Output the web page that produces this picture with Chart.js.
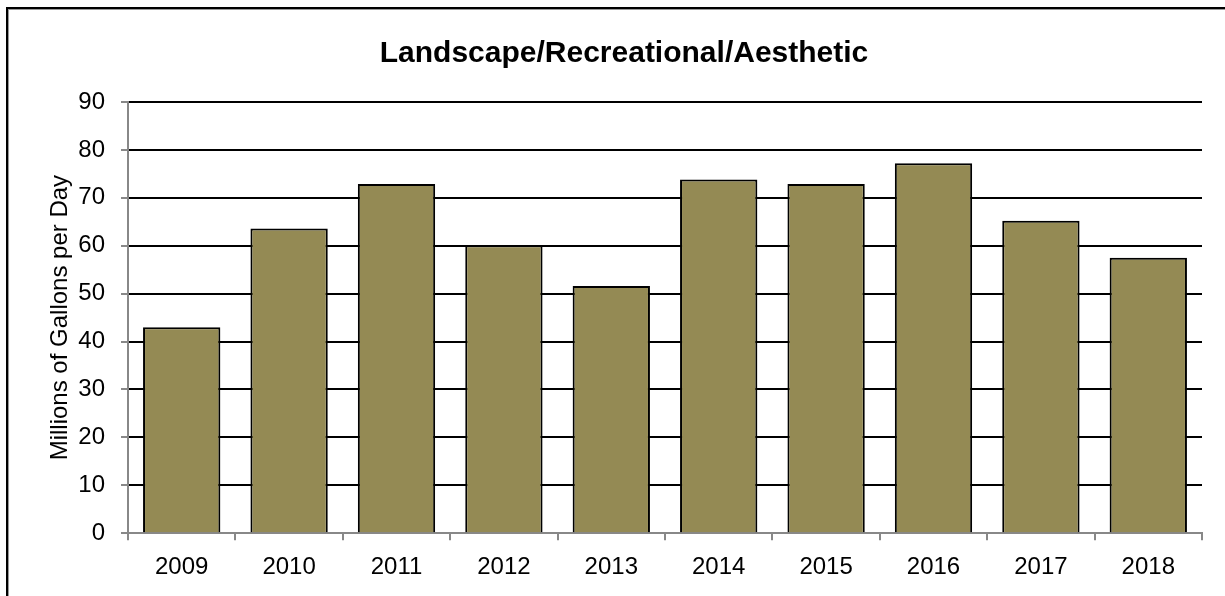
<!DOCTYPE html>
<html>
<head>
<meta charset="utf-8">
<script src="https://cdn.jsdelivr.net/npm/chart.js@4/dist/chart.umd.min.js"></script>
<style>
  html, body { margin: 0; padding: 0; background: #fff; overflow: hidden; }
  #frame {
    position: absolute; left: 6px; top: 7px; width: 1240px; height: 620px;
    border: 2px solid #000; box-shadow: inset 1px 1px 0 #999;
  }
  #wrap { position: absolute; left: 0; top: 0; width: 1225px; height: 596px; }
</style>
</head>
<body>
<div id="frame"></div>
<div id="wrap"><canvas id="chart"></canvas></div>
<script>
const years = ["2009", "2010", "2011", "2012", "2013", "2014", "2015", "2016", "2017", "2018"];
const mgd = [43.0, 63.6, 72.9, 60.1, 51.6, 73.8, 72.9, 77.2, 65.2, 57.5];
const yTicks = [0, 10, 20, 30, 40, 50, 60, 70, 80, 90];

Chart.defaults.font.family = "'Liberation Sans', Arial, sans-serif";
Chart.defaults.color = "#000";

const ctx = document.getElementById("chart").getContext("2d");
const myChart = new Chart(ctx, {
  type: "bar",
  data: {
    labels: years,
    datasets: [
      {
        label: "Landscape/Recreational/Aesthetic",
        data: mgd,
        backgroundColor: "#948A54",
        borderColor: "#000",
        borderWidth: 2,
        borderSkipped: "bottom",
        categoryPercentage: 1,
        barPercentage: 0.72,
      },
    ],
  },
  options: {
    responsive: true,
    maintainAspectRatio: false,
    animation: false,
    layout: { padding: { top: 36, right: 23, bottom: 1, left: 46 } },
    plugins: {
      legend: { display: false },
      tooltip: { enabled: false },
      title: {
        display: true,
        text: "Landscape/Recreational/Aesthetic",
        font: { size: 30, weight: "bold" },
        color: "#000",
        padding: { top: 0, bottom: 30 },
      },
    },
    scales: {
      x: {
        offset: true,
        grid: {
          offset: true,
          drawOnChartArea: false,
          tickLength: 7,
          tickColor: "#888",
          lineWidth: 2,
        },
        border: { color: "#888", width: 2 },
        ticks: { font: { size: 24 }, padding: 13 },
      },
      y: {
        min: 0,
        max: 90,
        afterBuildTicks: (scale) => {
          scale.ticks = yTicks.map((v) => ({ value: v }));
        },
        afterFit: (scale) => {
          scale.width = 82;
        },
        grid: {
          color: (c) => (c.tick && c.tick.value === 0 ? "#888" : "#000"),
          lineWidth: 2,
          tickLength: 7,
          tickColor: "#888",
        },
        border: { color: "#888", width: 2 },
        ticks: { font: { size: 24 }, padding: 16 },
        title: {
          display: true,
          text: "Millions of Gallons per Day",
          font: { size: 24 },
          padding: { top: 0, bottom: 2 },
        },
      },
    },
  },
});
</script>
</body>
</html>
